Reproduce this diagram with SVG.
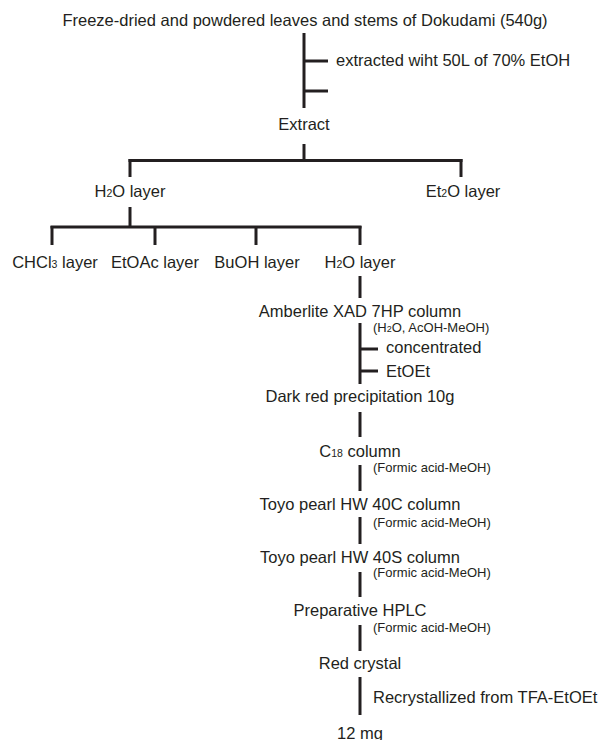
<svg xmlns="http://www.w3.org/2000/svg" width="600" height="740" viewBox="0 0 600 740">
<style>
text{font-family:"Liberation Sans",Arial,sans-serif;fill:#231f20;font-size:16.5px}
.m{text-anchor:middle}
.s{font-size:13px}
.sub{font-size:10.5px}
.c line{stroke:#231f20;stroke-width:3}
</style>
<rect width="600" height="740" fill="#fff"/>
<g class="c" id="connectors">
<line x1="304" y1="33" x2="304" y2="108"/>
<line x1="304" y1="61" x2="328" y2="61"/>
<line x1="304" y1="91" x2="328" y2="91"/>
<line x1="304" y1="144" x2="304" y2="161"/>
<line x1="128.5" y1="160.5" x2="462.5" y2="160.5"/>
<line x1="130" y1="159" x2="130" y2="177"/>
<line x1="461" y1="159" x2="461" y2="177"/>
<line x1="130" y1="207" x2="130" y2="228"/>
<line x1="50.5" y1="227" x2="361.5" y2="227"/>
<line x1="52" y1="226" x2="52" y2="245"/>
<line x1="155" y1="226" x2="155" y2="245"/>
<line x1="256" y1="226" x2="256" y2="245"/>
<line x1="360" y1="226" x2="360" y2="245"/>
<line x1="360" y1="276" x2="360" y2="298"/>
<line x1="360" y1="323" x2="360" y2="384"/>
<line x1="360" y1="349" x2="378" y2="349"/>
<line x1="360" y1="371" x2="378" y2="371"/>
<line x1="360" y1="412" x2="360" y2="437"/>
<line x1="360" y1="465" x2="360" y2="491"/>
<line x1="360" y1="517" x2="360" y2="544"/>
<line x1="360" y1="572" x2="360" y2="597"/>
<line x1="360" y1="625" x2="360" y2="651"/>
<line x1="360" y1="677" x2="360" y2="715"/>
</g>
<g id="start"><text class="m" x="305" y="26">Freeze-dried and powdered leaves and stems of Dokudami (540g)</text></g>
<g id="step-extract"><text x="336" y="66">extracted wiht 50L of 70% EtOH</text></g>
<g id="extract"><text class="m" x="304" y="130">Extract</text></g>
<g id="h2o-layer-1"><text class="m" x="130" y="197">H<tspan class="sub">2</tspan>O layer</text></g>
<g id="et2o-layer"><text class="m" x="463" y="197">Et<tspan class="sub">2</tspan>O layer</text></g>
<g id="chcl3-layer"><text class="m" x="55" y="268">CHCl<tspan class="sub">3</tspan> layer</text></g>
<g id="etoac-layer"><text class="m" x="155" y="268">EtOAc layer</text></g>
<g id="buoh-layer"><text class="m" x="257" y="268">BuOH layer</text></g>
<g id="h2o-layer-2"><text class="m" x="360" y="268">H<tspan class="sub">2</tspan>O layer</text></g>
<g id="amberlite"><text class="m" x="360" y="317">Amberlite XAD 7HP column</text>
<text class="s" x="373" y="332">(H<tspan font-size="9px">2</tspan>O, AcOH-MeOH)</text></g>
<g id="step-conc"><text x="386" y="353">concentrated</text><text x="386" y="377">EtOEt</text></g>
<g id="precip"><text class="m" x="360" y="402">Dark red precipitation 10g</text></g>
<g id="c18"><text class="m" x="360" y="457">C<tspan class="sub">18</tspan> column</text>
<text class="s" x="373" y="472">(Formic acid-MeOH)</text></g>
<g id="toyo-40c"><text class="m" x="360" y="510">Toyo pearl HW 40C column</text>
<text class="s" x="373" y="527">(Formic acid-MeOH)</text></g>
<g id="toyo-40s"><text class="m" x="360" y="563">Toyo pearl HW 40S column</text>
<text class="s" x="373" y="577">(Formic acid-MeOH)</text></g>
<g id="hplc"><text class="m" x="360" y="616">Preparative HPLC</text>
<text class="s" x="373" y="632">(Formic acid-MeOH)</text></g>
<g id="red-crystal"><text class="m" x="360" y="669">Red crystal</text></g>
<g id="step-recryst"><text x="373" y="703">Recrystallized from TFA-EtOEt</text></g>
<g id="product"><text class="m" x="360" y="739">12 mg</text></g>
</svg>
